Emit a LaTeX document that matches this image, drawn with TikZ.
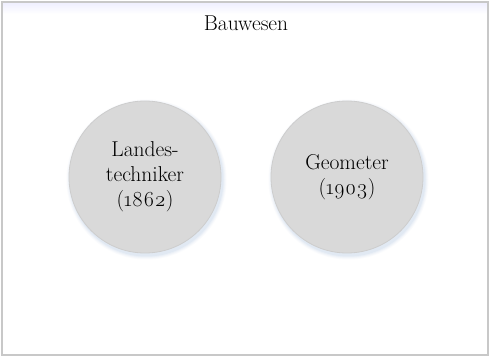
\documentclass[tikz,border=0pt]{standalone}
\usepackage{fontspec}
\setmainfont{Latin Modern Roman}[Numbers=OldStyle]
\definecolor{frameline}{HTML}{C8C8C8}
\definecolor{circfill}{HTML}{D9D9D9}
\definecolor{circline}{HTML}{CDCDCD}
\definecolor{glow}{HTML}{9DB9DC}
\begin{document}
\begin{tikzpicture}[x=1pt,y=-1pt,
  bubble/.style={circle,fill=circfill,draw=circline,line width=0.8pt,minimum size=152pt,inner sep=0pt,align=center,font=\fontsize{21.5}{25}\selectfont},
  title/.style={font=\fontsize{21.5}{25}\selectfont}]
\useasboundingbox (0,0) rectangle (490,358);
\fill[white] (0,0) rectangle (490,358);
\shade[top color=blue!6,bottom color=white] (3,3) rectangle (487,14);
\draw[frameline,line width=1.2pt] (2,2) rectangle (488,355);
\node[title] (t) at (246,23) {Bauwesen};
\foreach \cx in {146.5,348.5}{
  \foreach \r/\o in {80/0.05,79/0.07,78/0.09,77/0.12}{
    \fill[glow,opacity=\o] (\cx,179.5) circle (\r);
  }
}
\node[bubble] (a) at (145,177) {Landes-\\techniker\\(1862)};
\node[bubble] (b) at (347,177) {Geometer\\(1903)};
\end{tikzpicture}
\end{document}
